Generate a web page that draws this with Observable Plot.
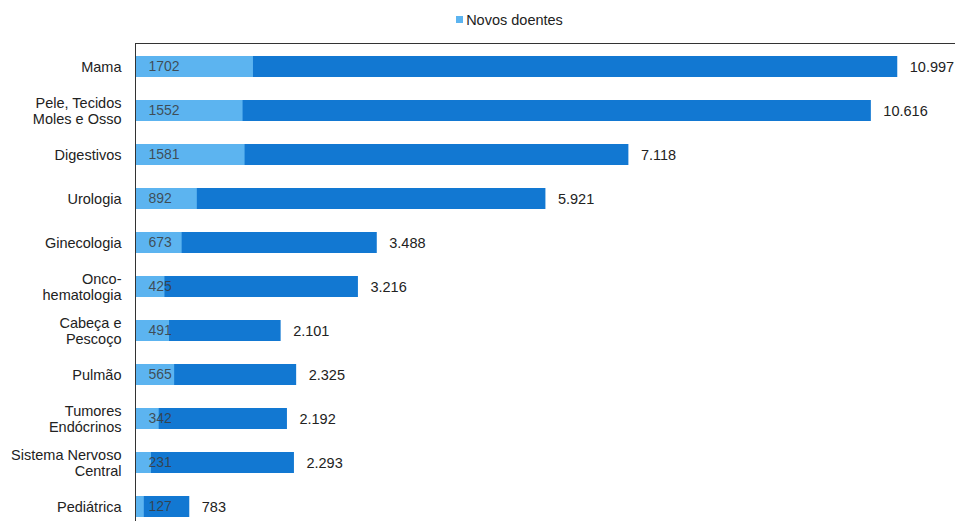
<!DOCTYPE html>
<html>
<head>
<meta charset="utf-8">
<script src="https://cdn.jsdelivr.net/npm/d3@7"></script>
<script src="https://cdn.jsdelivr.net/npm/@observablehq/plot@0.6"></script>
<style>
  body { margin: 0; background: #fff; font-family: "Liberation Sans", Arial, sans-serif; }
  #legend { height: 35px; display: flex; align-items: center; justify-content: center; font-size: 14.5px; color: #222; padding-left: 64px; padding-top: 4px; box-sizing: border-box; }
  #legend .sw { display: inline-block; width: 7px; height: 7px; background: #5cb4f0; margin-right: 3px; }
</style>
</head>
<body>
<div id="legend"><span class="sw"></span>Novos doentes</div>
<div id="chart"></div>
<script>
const categories = [
  "Mama", "Pele, Tecidos\nMoles e Osso", "Digestivos", "Urologia", "Ginecologia",
  "Onco-\nhematologia", "Cabeça e\nPescoço", "Pulmão", "Tumores\nEndócrinos",
  "Sistema Nervoso\nCentral", "Pediátrica"
];
const novosDoentes = [1702, 1552, 1581, 892, 673, 425, 491, 565, 342, 231, 127];
const totais = [10997, 10616, 7118, 5921, 3488, 3216, 2101, 2325, 2192, 2293, 783];

const data = categories.map((c, i) => ({ cat: c, novos: novosDoentes[i], total: totais[i] }));
const pt = d3.formatLocale({ decimal: ",", thousands: ".", grouping: [3], currency: ["", "€"] });
const fmt = pt.format(",d");

const chart = Plot.plot({
  width: 955,
  height: 496,
  marginLeft: 135,
  marginRight: 0,
  marginTop: 8,
  marginBottom: 0,
  style: { fontFamily: "Liberation Sans, Arial, sans-serif", fontSize: "14.5px", color: "#222" },
  x: { domain: [0, 11830], axis: null },
  y: { domain: categories, paddingInner: 0.52, paddingOuter: 0.28, label: null },
  marks: [
    Plot.barX(data, { y: "cat", x: "total", fill: "#1278d2" }),
    Plot.barX(data, { y: "cat", x: "novos", fill: "#5cb4f0" }),
    Plot.text(data, { y: "cat", x: 0, text: d => String(d.novos), textAnchor: "start", dx: 13, fill: "#3a3a3a", fillOpacity: 0.85, fontSize: 14 }),
    Plot.text(data, { y: "cat", x: "total", text: d => fmt(d.total), textAnchor: "start", dx: 12, fill: "#222", fontSize: 14.5 }),
    Plot.axisY({ tickSize: 0, tickPadding: 14, fontSize: 14.5, lineHeight: 1.1, fill: "#222", label: null }),
    Plot.ruleX([0], { stroke: "#333", strokeWidth: 1 }),
    Plot.frame({ anchor: "top", stroke: "#333", strokeWidth: 1 })
  ]
});
document.getElementById("chart").appendChild(chart);
</script>
</body>
</html>
